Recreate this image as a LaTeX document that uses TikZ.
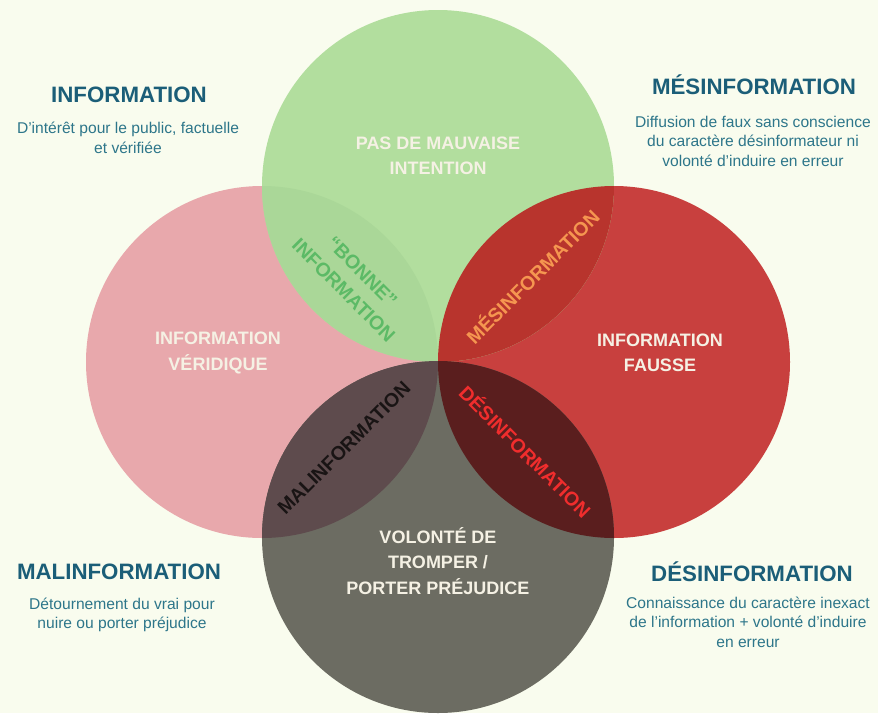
\documentclass[tikz,border=0pt]{standalone}
\usepackage{fontspec}
\setmainfont{Liberation Sans}
\definecolor{bgcol}{RGB}{249,252,238}
\definecolor{cgreen}{RGB}{178,222,158}
\definecolor{cpink}{RGB}{232,168,172}
\definecolor{cred}{RGB}{200,64,62}
\definecolor{cgray}{RGB}{108,108,98}
\definecolor{lgp}{RGB}{170,215,152}
\definecolor{lgr}{RGB}{184,52,45}
\definecolor{lpg}{RGB}{94,75,77}
\definecolor{lrg}{RGB}{90,30,30}
\definecolor{headcol}{RGB}{27,94,120}
\definecolor{bodycol}{RGB}{45,118,138}
\definecolor{labcol}{RGB}{245,241,228}
\definecolor{tgreen}{RGB}{92,186,102}
\definecolor{torange}{RGB}{245,150,80}
\definecolor{tblack}{RGB}{25,20,20}
\definecolor{tred}{RGB}{240,45,45}
\tikzset{
  heading/.style={text=headcol, font=\fontsize{22.3}{25}\selectfont\bfseries},
  desc/.style={text=bodycol, align=center, font=\fontsize{15.6}{19.5}\selectfont},
  circlabel/.style={text=labcol, align=center, font=\fontsize{18}{25.5}\selectfont\bfseries},
  lenslabel/.style={align=center, font=\fontsize{19.5}{26}\selectfont\bfseries, inner sep=0pt},
}
\begin{document}
\begin{tikzpicture}[x=1pt, y=-1pt]
  \def\rad{176}
  % page and background
  \fill[bgcol] (0,0) rectangle (878,713);
  \useasboundingbox (0,0) rectangle (878,713);

  % centres of the four circles
  \coordinate (ctop) at (438,186);
  \coordinate (cleft) at (262,362);
  \coordinate (cright) at (614,362);
  \coordinate (cbot) at (438,537);

  % base discs
  \fill[cpink] (cleft) circle (\rad);
  \fill[cred] (cright) circle (\rad);
  \fill[cgreen] (ctop) circle (\rad);
  \fill[cgray] (cbot) circle (\rad);

  % overlapping lenses
  \begin{scope}
    \clip (ctop) circle (\rad);
    \fill[lgp] (cleft) circle (\rad);
    \fill[lgr] (cright) circle (\rad);
  \end{scope}
  \begin{scope}
    \clip (cbot) circle (\rad);
    \fill[lpg] (cleft) circle (\rad);
    \fill[lrg] (cright) circle (\rad);
  \end{scope}

  % labels inside the circles
  \node[circlabel] (ltop) at (438,156) {PAS DE MAUVAISE\\INTENTION};
  \node[circlabel] (lleft) at (218,353) {INFORMATION\\VÉRIDIQUE};
  \node[circlabel] (lright) at (660,353) {INFORMATION\\FAUSSE};
  \node[circlabel] (lbot) at (438,561) {VOLONTÉ DE\\TROMPER /\\PORTER PRÉJUDICE};

  % labels inside the lenses
  \node[lenslabel, text=tgreen, rotate=-45] (lgood) at (353,281) {“BONNE”\\INFORMATION};
  \node[lenslabel, text=torange, rotate=45] (lmes) at (532,276) {MÉSINFORMATION};
  \node[lenslabel, text=tblack, rotate=45] (lmal) at (344,448) {MALINFORMATION};
  \node[lenslabel, text=tred, rotate=-45] (ldes) at (526,451) {DÉSINFORMATION};

  % definitions in the corners
  \node[heading] (hinfo) at (129,95) {INFORMATION};
  \node[desc] (dinfo) at (128,138) {D’intérêt pour le public, factuelle\\et vérifiée};

  \node[heading] (hmes) at (754,85) {MÉSINFORMATION};
  \node[desc] (dmes) at (753,141) {Diffusion de faux sans conscience\\du caractère désinformateur ni\\volonté d’induire en erreur};

  \node[heading] (hmal) at (119,572) {MALINFORMATION};
  \node[desc] (dmal) at (122,615) {Détournement du vrai pour\\nuire ou porter préjudice};

  \node[heading] (hdes) at (752,572) {DÉSINFORMATION};
  \node[desc] (ddes) at (748,622) {Connaissance du caractère inexact\\de l’information + volonté d’induire\\en erreur};
\end{tikzpicture}
\end{document}
